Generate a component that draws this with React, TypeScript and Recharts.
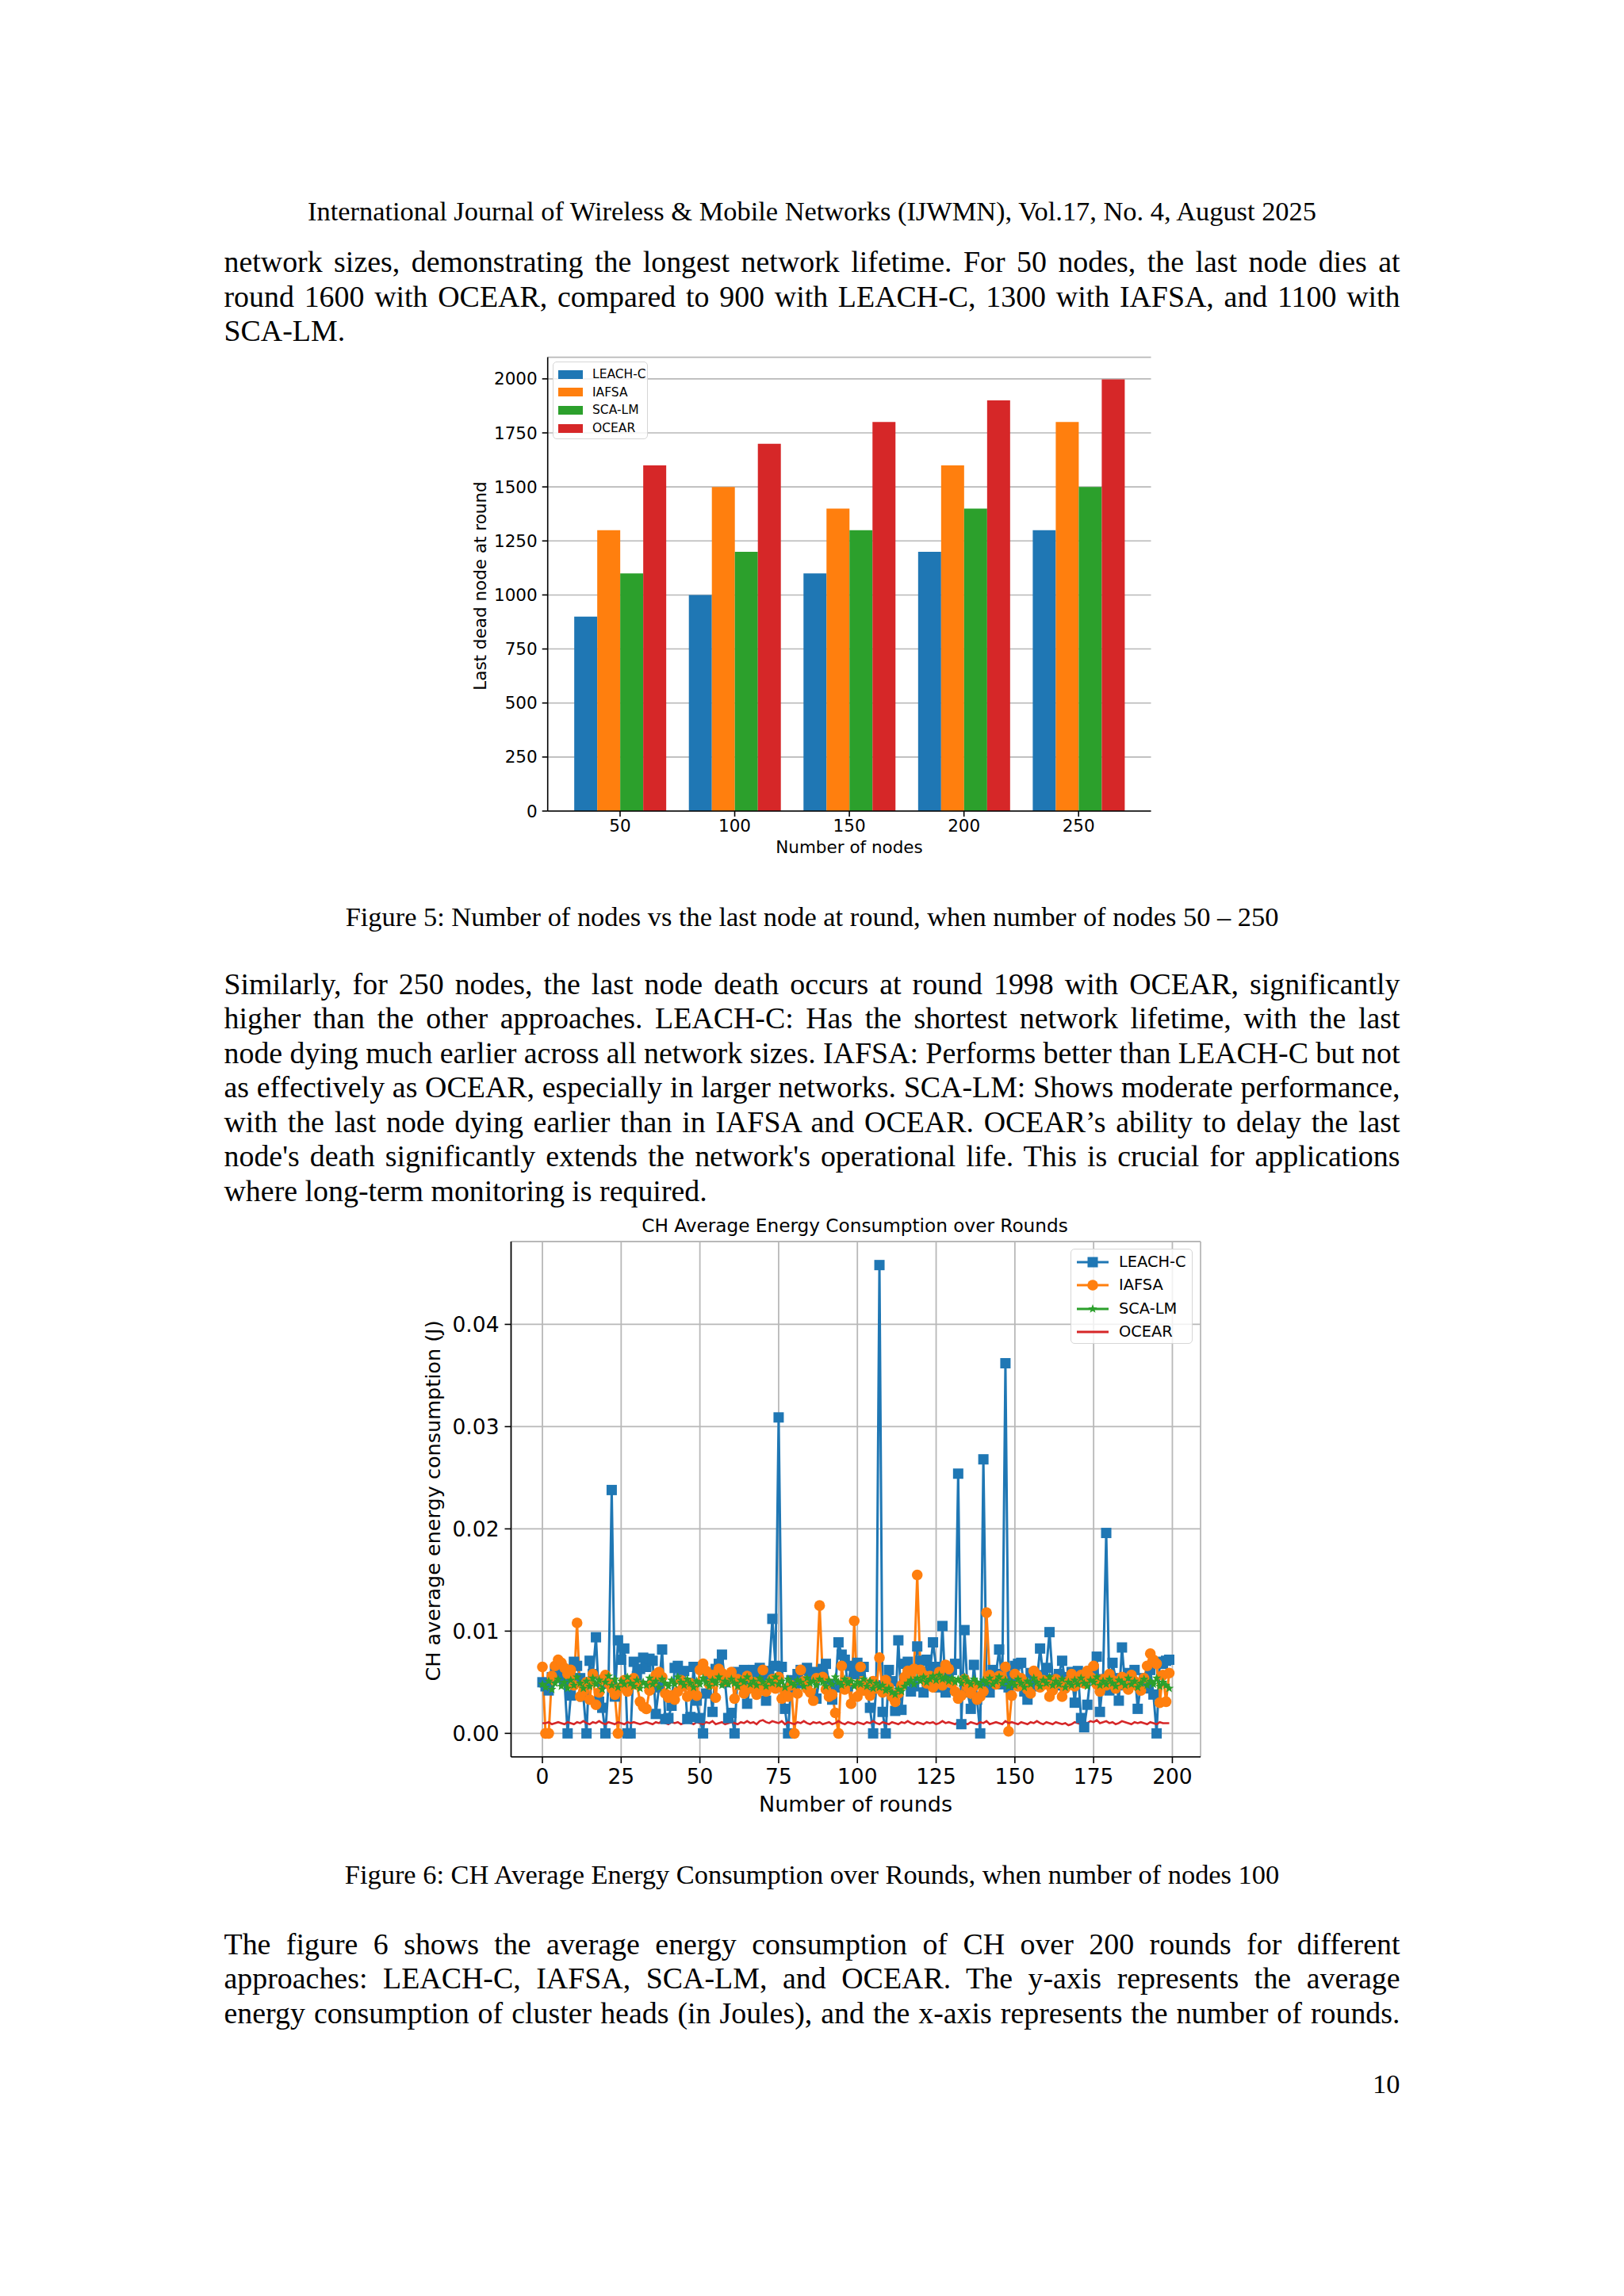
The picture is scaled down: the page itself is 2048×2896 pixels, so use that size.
import React from 'react';
import { BarChart, Bar, LineChart, Line, XAxis, YAxis, CartesianGrid } from 'recharts';

// Figure 5: last dead node round per network size
const nodeCounts = ['50', '100', '150', '200', '250'];
const leachLastDead = [900, 1000, 1100, 1200, 1300];
const iafsaLastDead = [1300, 1500, 1400, 1600, 1800];
const scaLastDead = [1100, 1200, 1300, 1400, 1500];
const ocearLastDead = [1600, 1700, 1800, 1900, 1998];
const lastDeadTicks = [0, 250, 500, 750, 1000, 1250, 1500, 1750, 2000];

// Figure 6: CH average energy per round (J)
const roundTicks = [0, 25, 50, 75, 100, 125, 150, 175, 200];
const energyTicks = [0, 0.01, 0.02, 0.03, 0.04];

const leachEnergy = [
  0.0050, 0.0046, 0.0042, 0.0055, 0.0061, 0.0058, 0.0063, 0.0052, 0.0000, 0.0037,
  0.0070, 0.0066, 0.0054, 0.0036, 0.0000, 0.0071, 0.0058, 0.0094, 0.0031, 0.0025,
  0.0000, 0.0049, 0.0238, 0.0036, 0.0091, 0.0072, 0.0083, 0.0000, 0.0000, 0.0070,
  0.0056, 0.0063, 0.0074, 0.0065, 0.0073, 0.0071, 0.0019, 0.0045, 0.0082, 0.0014,
  0.0015, 0.0027, 0.0064, 0.0066, 0.0055, 0.0061, 0.0014, 0.0016, 0.0065, 0.0032,
  0.0015, 0.0000, 0.0039, 0.0055, 0.0021, 0.0063, 0.0068, 0.0077, 0.0050, 0.0015,
  0.0020, 0.0000, 0.0060, 0.0055, 0.0062, 0.0029, 0.0048, 0.0062, 0.0058, 0.0064,
  0.0052, 0.0032, 0.0061, 0.0112, 0.0066, 0.0309, 0.0065, 0.0024, 0.0000, 0.0052,
  0.0045, 0.0058, 0.0062, 0.0049, 0.0064, 0.0055, 0.0060, 0.0034, 0.0056, 0.0063,
  0.0068, 0.0048, 0.0033, 0.0045, 0.0089, 0.0077, 0.0072, 0.0046, 0.0066, 0.0058,
  0.0069, 0.0061, 0.0065, 0.0043, 0.0025, 0.0000, 0.0047, 0.0458, 0.0021, 0.0000,
  0.0062, 0.0051, 0.0022, 0.0091, 0.0023, 0.0068, 0.0070, 0.0041, 0.0046, 0.0085,
  0.0071, 0.0040, 0.0072, 0.0060, 0.0089, 0.0065, 0.0045, 0.0105, 0.0040, 0.0057,
  0.0062, 0.0068, 0.0254, 0.0009, 0.0101, 0.0040, 0.0024, 0.0067, 0.0033, 0.0000,
  0.0268, 0.0045, 0.0040, 0.0062, 0.0058, 0.0082, 0.0048, 0.0362, 0.0045, 0.0056,
  0.0066, 0.0068, 0.0069, 0.0041, 0.0033, 0.0059, 0.0046, 0.0051, 0.0083, 0.0057,
  0.0064, 0.0099, 0.0053, 0.0047, 0.0058, 0.0071, 0.0049, 0.0055, 0.0060, 0.0030,
  0.0061, 0.0015, 0.0006, 0.0028, 0.0056, 0.0063, 0.0075, 0.0021, 0.0053, 0.0196,
  0.0042, 0.0069, 0.0054, 0.0032, 0.0084, 0.0047, 0.0059, 0.0056, 0.0062, 0.0024,
  0.0049, 0.0054, 0.0044, 0.0062, 0.0038, 0.0000, 0.0070, 0.0068, 0.0071, 0.0072,
];

const iafsaEnergy = [
  0.0065, 0.0000, 0.0000, 0.0056, 0.0066, 0.0072, 0.0069, 0.0064, 0.0058, 0.0062,
  0.0047, 0.0108, 0.0036, 0.0041, 0.0050, 0.0033, 0.0058, 0.0028, 0.0040, 0.0053,
  0.0057, 0.0049, 0.0044, 0.0038, 0.0000, 0.0045, 0.0052, 0.0041, 0.0047, 0.0054,
  0.0048, 0.0031, 0.0026, 0.0024, 0.0042, 0.0050, 0.0057, 0.0060, 0.0055, 0.0039,
  0.0035, 0.0037, 0.0033, 0.0041, 0.0052, 0.0046, 0.0036, 0.0049, 0.0043, 0.0037,
  0.0062, 0.0068, 0.0061, 0.0048, 0.0057, 0.0035, 0.0063, 0.0059, 0.0051, 0.0054,
  0.0060, 0.0034, 0.0053, 0.0047, 0.0039, 0.0056, 0.0044, 0.0050, 0.0038, 0.0046,
  0.0062, 0.0041, 0.0048, 0.0053, 0.0044, 0.0055, 0.0034, 0.0042, 0.0036, 0.0047,
  0.0000, 0.0039, 0.0062, 0.0051, 0.0044, 0.0040, 0.0032, 0.0054, 0.0125, 0.0055,
  0.0043, 0.0036, 0.0038, 0.0020, 0.0000, 0.0066, 0.0043, 0.0050, 0.0029, 0.0110,
  0.0036, 0.0065, 0.0042, 0.0048, 0.0037, 0.0051, 0.0044, 0.0074, 0.0040, 0.0052,
  0.0045, 0.0036, 0.0031, 0.0039, 0.0047, 0.0055, 0.0061, 0.0058, 0.0063, 0.0155,
  0.0062, 0.0057, 0.0049, 0.0056, 0.0045, 0.0052, 0.0060, 0.0047, 0.0067, 0.0063,
  0.0049, 0.0041, 0.0034, 0.0037, 0.0053, 0.0045, 0.0039, 0.0046, 0.0033, 0.0036,
  0.0041, 0.0118, 0.0057, 0.0052, 0.0048, 0.0056, 0.0054, 0.0065, 0.0002, 0.0037,
  0.0058, 0.0046, 0.0054, 0.0050, 0.0043, 0.0039, 0.0061, 0.0057, 0.0045, 0.0052,
  0.0048, 0.0036, 0.0042, 0.0053, 0.0049, 0.0036, 0.0044, 0.0051, 0.0058, 0.0046,
  0.0053, 0.0057, 0.0049, 0.0061, 0.0055, 0.0066, 0.0048, 0.0041, 0.0053, 0.0047,
  0.0058, 0.0052, 0.0044, 0.0049, 0.0055, 0.0047, 0.0043, 0.0057, 0.0051, 0.0046,
  0.0042, 0.0054, 0.0066, 0.0078, 0.0072, 0.0068, 0.0030, 0.0057, 0.0031, 0.0059,
];

const scaEnergy = [
  0.0048, 0.0045, 0.0051, 0.0043, 0.0049, 0.0053, 0.0046, 0.0050, 0.0044, 0.0052,
  0.0047, 0.0055, 0.0049, 0.0044, 0.0051, 0.0046, 0.0054, 0.0048, 0.0052, 0.0043,
  0.0050, 0.0056, 0.0047, 0.0053, 0.0045, 0.0051, 0.0048, 0.0055, 0.0049, 0.0046,
  0.0052, 0.0044, 0.0050, 0.0047, 0.0054, 0.0048, 0.0051, 0.0045, 0.0053, 0.0049,
  0.0046, 0.0052, 0.0048, 0.0055, 0.0050, 0.0047, 0.0053, 0.0049, 0.0045, 0.0051,
  0.0048, 0.0054, 0.0050, 0.0046, 0.0052, 0.0049, 0.0055, 0.0047, 0.0051, 0.0048,
  0.0053, 0.0049, 0.0046, 0.0052, 0.0050, 0.0055, 0.0048, 0.0051, 0.0047, 0.0054,
  0.0050, 0.0046, 0.0052, 0.0049, 0.0055, 0.0048, 0.0051, 0.0045, 0.0053, 0.0049,
  0.0047, 0.0052, 0.0050, 0.0046, 0.0054, 0.0049, 0.0051, 0.0047, 0.0053, 0.0050,
  0.0046, 0.0052, 0.0048, 0.0055, 0.0050, 0.0047, 0.0053, 0.0049, 0.0051, 0.0046,
  0.0050, 0.0048, 0.0053, 0.0046, 0.0051, 0.0044, 0.0049, 0.0045, 0.0047, 0.0042,
  0.0044, 0.0040, 0.0038, 0.0043, 0.0041, 0.0046, 0.0049, 0.0052, 0.0048, 0.0054,
  0.0051, 0.0055, 0.0050, 0.0053, 0.0056, 0.0052, 0.0057, 0.0053, 0.0055, 0.0051,
  0.0054, 0.0050, 0.0053, 0.0049, 0.0055, 0.0051, 0.0048, 0.0053, 0.0050, 0.0047,
  0.0052, 0.0049, 0.0054, 0.0048, 0.0051, 0.0055, 0.0049, 0.0052, 0.0046, 0.0050,
  0.0047, 0.0053, 0.0049, 0.0045, 0.0051, 0.0048, 0.0054, 0.0050, 0.0046, 0.0052,
  0.0049, 0.0055, 0.0047, 0.0051, 0.0048, 0.0053, 0.0045, 0.0050, 0.0047, 0.0052,
  0.0048, 0.0054, 0.0049, 0.0046, 0.0052, 0.0050, 0.0055, 0.0047, 0.0051, 0.0048,
  0.0053, 0.0049, 0.0046, 0.0052, 0.0050, 0.0047, 0.0054, 0.0048, 0.0051, 0.0045,
  0.0049, 0.0053, 0.0047, 0.0051, 0.0048, 0.0054, 0.0046, 0.0050, 0.0047, 0.0044,
];

const ocearEnergy = [
  0.0010, 0.0010, 0.0011, 0.0009, 0.0010, 0.0011, 0.0010, 0.0009, 0.0011, 0.0010,
  0.0009, 0.0011, 0.0010, 0.0012, 0.0010, 0.0009, 0.0011, 0.0010, 0.0012, 0.0010,
  0.0009, 0.0011, 0.0010, 0.0009, 0.0011, 0.0010, 0.0009, 0.0011, 0.0010, 0.0011,
  0.0010, 0.0009, 0.0010, 0.0011, 0.0010, 0.0009, 0.0011, 0.0010, 0.0012, 0.0010,
  0.0009, 0.0011, 0.0010, 0.0011, 0.0009, 0.0010, 0.0012, 0.0010, 0.0009, 0.0011,
  0.0010, 0.0009, 0.0011, 0.0010, 0.0012, 0.0009, 0.0010, 0.0011, 0.0009, 0.0010,
  0.0011, 0.0010, 0.0009, 0.0011, 0.0010, 0.0012, 0.0010, 0.0011, 0.0009, 0.0012,
  0.0013, 0.0011, 0.0010, 0.0012, 0.0011, 0.0010, 0.0012, 0.0009, 0.0011, 0.0010,
  0.0009, 0.0011, 0.0010, 0.0012, 0.0010, 0.0009, 0.0011, 0.0010, 0.0011, 0.0009,
  0.0010, 0.0011, 0.0009, 0.0010, 0.0012, 0.0010, 0.0009, 0.0011, 0.0010, 0.0009,
  0.0011, 0.0010, 0.0009, 0.0011, 0.0010, 0.0012, 0.0010, 0.0009, 0.0011, 0.0010,
  0.0009, 0.0011, 0.0010, 0.0009, 0.0011, 0.0010, 0.0012, 0.0010, 0.0009, 0.0011,
  0.0010, 0.0009, 0.0011, 0.0010, 0.0011, 0.0009, 0.0010, 0.0012, 0.0010, 0.0011,
  0.0010, 0.0009, 0.0011, 0.0012, 0.0010, 0.0009, 0.0011, 0.0010, 0.0009, 0.0011,
  0.0010, 0.0012, 0.0009, 0.0010, 0.0011, 0.0010, 0.0009, 0.0012, 0.0010, 0.0011,
  0.0010, 0.0009, 0.0011, 0.0010, 0.0009, 0.0011, 0.0010, 0.0012, 0.0010, 0.0009,
  0.0011, 0.0010, 0.0009, 0.0011, 0.0010, 0.0009, 0.0010, 0.0008, 0.0009, 0.0011,
  0.0010, 0.0009, 0.0011, 0.0010, 0.0012, 0.0011, 0.0013, 0.0010, 0.0011, 0.0012,
  0.0010, 0.0011, 0.0009, 0.0010, 0.0012, 0.0011, 0.0010, 0.0009, 0.0011, 0.0010,
  0.0011, 0.0010, 0.0009, 0.0011, 0.0010, 0.0009, 0.0011, 0.0010, 0.0010, 0.0010,
];

const BLUE = '#1f77b4';
const ORANGE = '#ff7f0e';
const GREEN = '#2ca02c';
const RED = '#d62728';

const serif = '"Liberation Serif", "Times New Roman", serif';
const sans = '"DejaVu Sans", sans-serif';

const barRows = nodeCounts.map((n, i) => ({
  nodes: n,
  leach: leachLastDead[i],
  iafsa: iafsaLastDead[i],
  sca: scaLastDead[i],
  ocear: ocearLastDead[i],
}));

const lineRows = leachEnergy.map((v, i) => ({
  round: i,
  leach: v,
  iafsa: iafsaEnergy[i],
  sca: scaEnergy[i],
  ocear: ocearEnergy[i],
}));

const squareDot = (p: any) => (
  <rect key={`sq-${p.index}`} x={p.cx - 6.5} y={p.cy - 6.5} width={13} height={13} fill={BLUE} />
);
const circleDot = (p: any) => (
  <circle key={`ci-${p.index}`} cx={p.cx} cy={p.cy} r={6.8} fill={ORANGE} />
);
const starPath = (cx: number, cy: number, r: number) => {
  const pts: string[] = [];
  for (let k = 0; k < 10; k++) {
    const a = -Math.PI / 2 + (k * Math.PI) / 5;
    const rr = k % 2 === 0 ? r : r * 0.42;
    pts.push(`${cx + rr * Math.cos(a)},${cy + rr * Math.sin(a)}`);
  }
  return pts.join(' ');
};
const starDot = (p: any) => (
  <polygon key={`st-${p.index}`} points={starPath(p.cx, p.cy, 6)} fill={GREEN} />
);

const justified: React.CSSProperties = {
  width: 1483,
  textAlign: 'justify',
  textAlignLast: 'justify',
  wordSpacing: -4,
  whiteSpace: 'nowrap',
  height: 43.5,
};

function TextBlock({ top, lines, lastLeft }: { top: number; lines: string[]; lastLeft?: boolean }) {
  return (
    <div style={{ position: 'absolute', left: 282.5, top, fontFamily: serif, fontSize: 37.9, lineHeight: '43.5px', color: '#000' }}>
      {lines.map((l, i) => (
        <div key={i} style={lastLeft && i === lines.length - 1 ? { height: 43.5, whiteSpace: 'nowrap' } : justified}>{l}</div>
      ))}
    </div>
  );
}

function Centered({ x, y, text, size, family, rotate }: { x: number; y: number; text: string; size: number; family: string; rotate?: boolean }) {
  return (
    <div
      style={{
        position: 'absolute',
        left: x,
        top: y,
        transform: `translate(-50%, -50%)${rotate ? ' rotate(-90deg)' : ''}`,
        whiteSpace: 'nowrap',
        fontFamily: family,
        fontSize: size,
        lineHeight: 1,
        color: '#000',
      }}
    >
      {text}
    </div>
  );
}

function BarLegend() {
  const items = [
    { label: 'LEACH-C', color: BLUE },
    { label: 'IAFSA', color: ORANGE },
    { label: 'SCA-LM', color: GREEN },
    { label: 'OCEAR', color: RED },
  ];
  return (
    <div style={{ position: 'absolute', left: 697, top: 456, width: 120, height: 98, boxSizing: 'border-box', border: '1.5px solid #d6d6d6', borderRadius: 5, background: 'rgba(255,255,255,0.8)', fontFamily: sans, fontSize: 15.5 }}>
      {items.map((it, i) => (
        <div key={it.label} style={{ position: 'absolute', left: 0, top: 15 + i * 22.7, height: 0 }}>
          <div style={{ position: 'absolute', left: 6, top: -5.5, width: 31, height: 11, background: it.color }} />
          <div style={{ position: 'absolute', left: 49, top: -9, lineHeight: '18px', whiteSpace: 'nowrap' }}>{it.label}</div>
        </div>
      ))}
    </div>
  );
}

function LineLegend() {
  const items = [
    { label: 'LEACH-C', color: BLUE, mark: 'square' },
    { label: 'IAFSA', color: ORANGE, mark: 'circle' },
    { label: 'SCA-LM', color: GREEN, mark: 'star' },
    { label: 'OCEAR', color: RED, mark: 'none' },
  ];
  return (
    <div style={{ position: 'absolute', left: 1350, top: 1575, width: 154, height: 120, boxSizing: 'border-box', border: '1.5px solid #d6d6d6', borderRadius: 5, background: 'rgba(255,255,255,0.8)', fontFamily: sans, fontSize: 19.4 }}>
      {items.map((it, i) => (
        <div key={it.label} style={{ position: 'absolute', left: 0, top: 16 + i * 29.4, height: 0 }}>
          <svg style={{ position: 'absolute', left: 5, top: -10 }} width={44} height={20}>
            <line x1={2} y1={10} x2={42} y2={10} stroke={it.color} strokeWidth={3} />
            {it.mark === 'square' && <rect x={15.5} y={3.5} width={13} height={13} fill={it.color} />}
            {it.mark === 'circle' && <circle cx={22} cy={10} r={6.8} fill={it.color} />}
            {it.mark === 'star' && <polygon points={starPath(22, 10, 6)} fill={it.color} />}
          </svg>
          <div style={{ position: 'absolute', left: 60, top: -11, lineHeight: '22px', whiteSpace: 'nowrap' }}>{it.label}</div>
        </div>
      ))}
    </div>
  );
}

const axisLine = { stroke: '#000', strokeWidth: 1.6 };

function LastDeadChart() {
  const tick = { fill: '#000', fontSize: 21.5, fontFamily: sans };
  return (
    <div style={{ position: 'absolute', left: 560, top: 420 }}>
      <BarChart width={920} height={700} data={barRows} margin={{ top: 30.6, right: 28.5, left: 0, bottom: 0 }} barCategoryGap="10%" barGap={0}>
        <XAxis dataKey="nodes" height={97} padding={{ left: 19, right: 19 }} tick={tick} tickSize={7} tickMargin={4} tickLine={axisLine} axisLine={axisLine} />
        <YAxis width={130.7} domain={[0, 2100]} ticks={lastDeadTicks} tick={tick} tickSize={7} tickMargin={6} tickLine={axisLine} axisLine={axisLine} />
        <XAxis xAxisId="top" orientation="top" dataKey="nodes" height={0} padding={{ left: 19, right: 19 }} tick={false} tickLine={false} axisLine={axisLine} />
        <YAxis yAxisId="right" orientation="right" width={0} domain={[0, 2100]} tick={false} tickLine={false} axisLine={axisLine} />
        <Bar dataKey="leach" fill={BLUE} isAnimationActive={false} />
        <Bar dataKey="iafsa" fill={ORANGE} isAnimationActive={false} />
        <Bar dataKey="sca" fill={GREEN} isAnimationActive={false} />
        <Bar dataKey="ocear" fill={RED} isAnimationActive={false} />
        <CartesianGrid vertical={false} stroke="#b8b8b8" strokeWidth={1.6} />
      </BarChart>
    </div>
  );
}

function EnergyChart() {
  const tick = { fill: '#000', fontSize: 26.5, fontFamily: sans };
  const xDomain: [number, number] = [-9.95, 208.95];
  const yDomain: [number, number] = [-0.0023, 0.0481];
  return (
    <div style={{ position: 'absolute', left: 500, top: 1520 }}>
      <LineChart width={1040} height={800} data={lineRows} margin={{ top: 46, right: 26, left: 0, bottom: 0 }}>
        <CartesianGrid stroke="#b8b8b8" strokeWidth={1.8} />
        <XAxis type="number" dataKey="round" domain={xDomain} ticks={roundTicks} allowDataOverflow height={104} tick={tick} tickSize={8} tickMargin={7} tickLine={axisLine} axisLine={axisLine} />
        <YAxis type="number" domain={yDomain} ticks={energyTicks} allowDataOverflow width={144.5} tick={tick} tickSize={8} tickMargin={7} tickFormatter={(v: number) => v.toFixed(2)} tickLine={axisLine} axisLine={axisLine} />
        <XAxis xAxisId="top" orientation="top" type="number" dataKey="round" domain={xDomain} allowDataOverflow height={0} tick={false} tickLine={false} axisLine={axisLine} />
        <YAxis yAxisId="right" orientation="right" type="number" domain={yDomain} allowDataOverflow width={0} tick={false} tickLine={false} axisLine={axisLine} />
        <Line dataKey="leach" stroke={BLUE} strokeWidth={3} dot={squareDot} activeDot={false} isAnimationActive={false} />
        <Line dataKey="iafsa" stroke={ORANGE} strokeWidth={3} dot={circleDot} activeDot={false} isAnimationActive={false} />
        <Line dataKey="sca" stroke={GREEN} strokeWidth={3} dot={starDot} activeDot={false} isAnimationActive={false} />
        <Line dataKey="ocear" stroke={RED} strokeWidth={2.6} dot={false} activeDot={false} isAnimationActive={false} />
      </LineChart>
    </div>
  );
}

export default function App() {
  return (
    <div style={{ position: 'absolute', left: 0, top: 0, width: 2048, height: 2896, background: '#fff', overflow: 'hidden' }}>
      <div style={{ position: 'absolute', left: 0, top: 246, width: 2048, textAlign: 'center', fontFamily: serif, fontSize: 34.4, lineHeight: '40px' }}>
        International Journal of Wireless &amp; Mobile Networks (IJWMN), Vol.17, No. 4, August 2025
      </div>

      <TextBlock
        top={309}
        lastLeft
        lines={[
          'network sizes, demonstrating the longest network lifetime. For 50 nodes, the last node dies at',
          'round 1600 with OCEAR, compared to 900 with LEACH-C, 1300 with IAFSA, and 1100 with',
          'SCA-LM.',
        ]}
      />

      <LastDeadChart />
      <BarLegend />
      <Centered x={1071} y={1069} text="Number of nodes" size={21.5} family={sans} />
      <Centered x={605.5} y={738.5} text="Last dead node at round" size={21.5} family={sans} rotate />

      <div style={{ position: 'absolute', left: 0, top: 1136, width: 2048, textAlign: 'center', fontFamily: serif, fontSize: 34.4, lineHeight: '40px' }}>
        Figure 5: Number of nodes vs the last node at round, when number of nodes 50 – 250
      </div>

      <TextBlock
        top={1219.5}
        lastLeft
        lines={[
          'Similarly, for 250 nodes, the last node death occurs at round 1998 with OCEAR, significantly',
          'higher than the other approaches. LEACH-C: Has the shortest network lifetime, with the last',
          'node dying much earlier across all network sizes. IAFSA: Performs better than LEACH-C but not',
          'as effectively as OCEAR, especially in larger networks. SCA-LM: Shows moderate performance,',
          'with the last node dying earlier than in IAFSA and OCEAR. OCEAR’s ability to delay the last',
          "node's death significantly extends the network's operational life. This is crucial for applications",
          'where long-term monitoring is required.',
        ]}
      />

      <Centered x={1078} y={1546} text="CH Average Energy Consumption over Rounds" size={23.2} family={sans} />
      <EnergyChart />
      <LineLegend />
      <Centered x={1079} y={2275} text="Number of rounds" size={27} family={sans} />
      <Centered x={546.5} y={1893} text="CH average energy consumption (J)" size={25.5} family={sans} rotate />

      <div style={{ position: 'absolute', left: 0, top: 2344, width: 2048, textAlign: 'center', fontFamily: serif, fontSize: 34.4, lineHeight: '40px' }}>
        Figure 6: CH Average Energy Consumption over Rounds, when number of nodes 100
      </div>

      <TextBlock
        top={2430.5}
        lines={[
          'The figure 6 shows the average energy consumption of CH over 200 rounds for different',
          'approaches: LEACH-C, IAFSA, SCA-LM, and OCEAR. The y-axis represents the average',
          'energy consumption of cluster heads (in Joules), and the x-axis represents the number of rounds.',
        ]}
      />

      <div style={{ position: 'absolute', right: 282.5, top: 2608, fontFamily: serif, fontSize: 34.4, lineHeight: '40px' }}>10</div>
    </div>
  );
}
